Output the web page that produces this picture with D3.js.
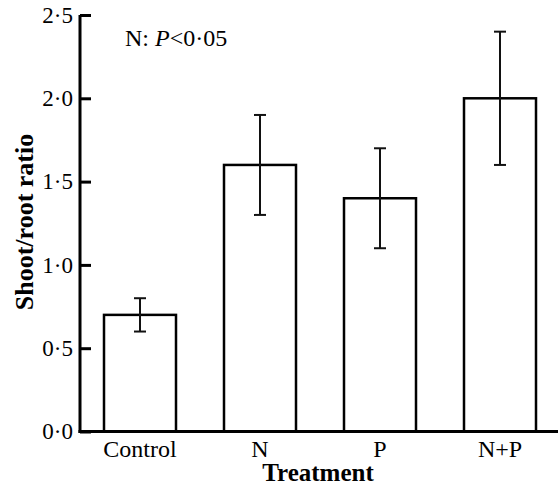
<!DOCTYPE html>
<html>
<head>
<script src="https://d3js.org/d3.v7.min.js"></script>
<style>
  body { margin: 0; background: #fff; }
  svg { display: block; }
  svg text { font-family: "Liberation Serif", "Times New Roman", serif; fill: #000; }
</style>
</head>
<body>
<svg id="chart" width="558" height="487"></svg>
<script>
// data
var treatments = ["Control", "N", "P", "N+P"];
var ratio = [0.7, 1.6, 1.4, 2.0];
var errLow = [0.6, 1.3, 1.1, 1.6];
var errHigh = [0.8, 1.9, 1.7, 2.4];
var yTicks = [0, 0.5, 1.0, 1.5, 2.0, 2.5];

var svg = d3.select("#chart");

var x = d3.scaleBand()
  .domain(treatments)
  .range([80, 560])
  .paddingInner(0.4)
  .paddingOuter(0.2);

var y = d3.scaleLinear()
  .domain([0, 2.5])
  .range([431.5, 15]);

function fmt(v) { return d3.format(".1f")(v).replace(".", "\u00b7"); }

// bars
svg.selectAll("rect.bar")
  .data(treatments)
  .enter()
  .append("rect")
  .attr("class", "bar")
  .attr("x", function(d){ return x(d); })
  .attr("y", function(d, i){ return y(ratio[i]); })
  .attr("width", x.bandwidth())
  .attr("height", function(d, i){ return y(0) - y(ratio[i]); })
  .attr("fill", "#fff")
  .attr("stroke", "#000")
  .attr("stroke-width", 2.5);

// error bars
var eb = svg.append("g").attr("stroke", "#111").attr("stroke-width", 2);
treatments.forEach(function(d, i) {
  var cx = x(d) + x.bandwidth() / 2;
  eb.append("line").attr("x1", cx).attr("x2", cx).attr("y1", y(errLow[i])).attr("y2", y(errHigh[i]));
  eb.append("line").attr("x1", cx - 6).attr("x2", cx + 6).attr("y1", y(errLow[i])).attr("y2", y(errLow[i]));
  eb.append("line").attr("x1", cx - 6).attr("x2", cx + 6).attr("y1", y(errHigh[i])).attr("y2", y(errHigh[i]));
});

// y axis
var yAxis = svg.append("g")
  .attr("transform", "translate(80,0)")
  .call(d3.axisRight(y).tickValues(yTicks).tickSize(11).tickFormat(fmt));
yAxis.attr("font-family", null).attr("font-size", null);
yAxis.select(".domain").remove();
yAxis.selectAll(".tick line").attr("stroke", "#000").attr("stroke-width", 3);
yAxis.selectAll(".tick text")
  .attr("x", -7)
  .attr("text-anchor", "end")
  .attr("font-size", 23)
  .attr("dy", "0.32em");

svg.append("line")
  .attr("x1", 80).attr("x2", 80)
  .attr("y1", y(2.5)).attr("y2", y(0) + 1.5)
  .attr("stroke", "#000").attr("stroke-width", 3);

// x axis
svg.append("line")
  .attr("x1", 78.5).attr("x2", 558)
  .attr("y1", y(0)).attr("y2", y(0))
  .attr("stroke", "#000").attr("stroke-width", 3);

svg.selectAll("text.xlab")
  .data(treatments)
  .enter()
  .append("text")
  .attr("class", "xlab")
  .attr("x", function(d){ return x(d) + x.bandwidth() / 2; })
  .attr("y", 457)
  .attr("text-anchor", "middle")
  .attr("font-size", 24)
  .text(function(d){ return d; });

// axis titles
svg.append("text")
  .attr("x", 318)
  .attr("y", 481)
  .attr("text-anchor", "middle")
  .attr("font-size", 25)
  .attr("font-weight", "bold")
  .text("Treatment");

svg.append("text")
  .attr("transform", "translate(33,222) rotate(-90)")
  .attr("text-anchor", "middle")
  .attr("font-size", 26)
  .attr("font-weight", "bold")
  .text("Shoot/root ratio");

// annotation
var ann = svg.append("text")
  .attr("x", 125)
  .attr("y", 46)
  .attr("font-size", 24);
ann.append("tspan").text("N: ");
ann.append("tspan").attr("font-style", "italic").text("P");
ann.append("tspan").text("<0\u00b705");
</script>
</body>
</html>
